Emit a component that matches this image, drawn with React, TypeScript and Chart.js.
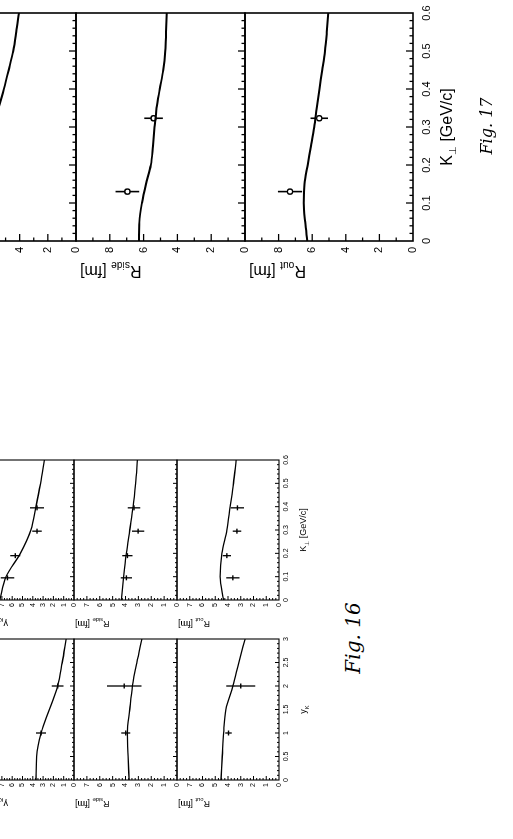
import React, { useEffect, useRef } from 'react';
import { Chart, registerables } from 'chart.js';

Chart.register(...registerables);

const SANS = '"Liberation Sans", Arial, Helvetica, sans-serif';
const HAND = '"DejaVu Serif", "Liberation Serif", serif';

// ---------------- Fig. 17 (K_perp dependence, large panels) ----------------
const k17 = [0, 0.05, 0.1, 0.15, 0.2, 0.25, 0.3, 0.35, 0.4, 0.45, 0.5, 0.55, 0.6];
const rLong17 = [9.5, 8.9, 8.2, 7.5, 6.9, 6.35, 5.9, 5.5, 5.12, 4.78, 4.46, 4.24, 4.05];
const rSide17 = [6.27, 6.25, 6.1, 5.86, 5.57, 5.45, 5.35, 5.23, 5.04, 4.84, 4.72, 4.67, 4.63];
const rOut17 = [6.29, 6.42, 6.5, 6.46, 6.27, 6.07, 5.88, 5.73, 5.57, 5.4, 5.24, 5.13, 5.04];
const k17Pts = [0.13, 0.323];
const rSide17Pts = [6.96, 5.41];
const rSide17Err = [0.7, 0.55];
const rOut17Pts = [7.32, 5.58];
const rOut17Err = [0.72, 0.52];
const k17Ticks = [0, 0.1, 0.2, 0.3, 0.4, 0.5, 0.6];
const r17Ticks = [0, 2, 4, 6, 8];
const rLong17Ticks = [0, 2, 4, 6, 8, 10];

// ---------------- Fig. 16 (y_K and K_perp dependence, small panels) ----------------
const yK16 = [0, 0.5, 1, 1.5, 2, 2.5, 3];
const rTopY16 = [3.69, 3.63, 3.2, 2.39, 1.58, 1.14, 0.76];
const rSideY16 = [3.72, 3.8, 3.85, 3.67, 3.46, 3.12, 2.72];
const rOutY16 = [4.55, 4.45, 4.35, 4.16, 3.62, 3.15, 2.66];
const yKPts16 = [1, 2];
const rTopY16Pts = [3.2, 1.58];
const rTopY16Err = [0.49, 0.57];
const rSideY16Pts = [3.98, 4.1];
const rSideY16Err = [0.35, 1.34];
const rOutY16Pts = [3.96, 3.0];
const rOutY16Err = [0.25, 1.13];

const k16 = [0, 0.1, 0.2, 0.3, 0.4, 0.5, 0.6];
const rTopK16 = [7.2, 6.6, 5.2, 4.18, 3.69, 3.25, 2.88];
const rSideK16 = [4.32, 4.14, 3.93, 3.67, 3.41, 3.22, 3.07];
const rOutK16 = [4.35, 4.62, 4.48, 4.09, 3.83, 3.57, 3.36];
const k16Pts = [0.095, 0.19, 0.295, 0.395];
const rTopK16Pts = [6.46, 5.7, 3.59, 3.59];
const rTopK16Err = [0.65, 0.49, 0.46, 0.68];
const rSideK16Pts = [3.93, 3.85, 3.02, 3.34];
const rSideK16Err = [0.43, 0.4, 0.48, 0.48];
const rOutK16Pts = [3.62, 4.09, 3.3, 3.26];
const rOutK16Err = [0.52, 0.33, 0.33, 0.52];

const yK16Ticks = [0, 0.5, 1, 1.5, 2, 2.5, 3];
const k16Ticks = [0, 0.1, 0.2, 0.3, 0.4, 0.5, 0.6];
const r16Ticks = [0, 1, 2, 3, 4, 5, 6, 7];
const rTop16Ticks = [0, 1, 2, 3, 4, 5, 6, 7, 8, 9];

// ---------------- types & styles ----------------
type Seg = { t: string; sub?: boolean };
type Style = {
  leftW: number; bottomH: number; frameW: number; curveW: number; majL: number; minL: number;
  tickFont: number; titleFont: number; yPad: number; xPad: number; ptStyle: string; ptR: number;
  errW: number; yTitleOff: number; yTitleTop: number; xTitleBase: number;
};
type PanelCfg = {
  id: string; s: Style;
  x0: number; x1: number; y0: number; y1: number;
  xMin: number; xMax: number; yMin: number; yMax: number;
  xMajor: number; xMinor: number; yMajor: number; yMinor: number;
  xLabels: number[] | null; yLabels: number[];
  curveX: number[]; curveY: number[];
  ptsX?: number[]; ptsY?: number[]; ptsE?: number[];
  yTitle: Seg[]; xTitle?: Seg[];
};

const S17: Style = {
  leftW: 50, bottomH: 52, frameW: 1.6, curveW: 2, majL: 7, minL: 3.5, tickFont: 11, titleFont: 16,
  yPad: 6, xPad: 7, ptStyle: 'circle', ptR: 2.6, errW: 1.6, yTitleOff: 31, yTitleTop: 4, xTitleBase: 39,
};
const S16: Style = {
  leftW: 36, bottomH: 34, frameW: 1.1, curveW: 1.3, majL: 4, minL: 2, tickFont: 7, titleFont: 9,
  yPad: 3, xPad: 3, ptStyle: 'line', ptR: 2.5, errW: 1.3, yTitleOff: 24, yTitleTop: 1, xTitleBase: 27,
};

const R = (sub: string): Seg[] => [{ t: 'R' }, { t: sub, sub: true }, { t: ' [fm]' }];
const KPERP: Seg[] = [{ t: 'K' }, { t: '⊥', sub: true }, { t: ' [GeV/c]' }];
const YK: Seg[] = [{ t: 'y' }, { t: 'K', sub: true }];
const TOP16: Seg[] = [{ t: 'γ' }, { t: 'K', sub: true }, { t: ' R' }, { t: 'l', sub: true }, { t: ' [fm]' }];

// Fig 17 geometry (upright, landscape 839x513)
const F17X = [598, 826];
const F17Rows = [[-93, 76], [76, 245], [245, 413]];
// Fig 16 geometry
const F16L = [59, 200];
const F16R = [239, 379];
const F16Rows = [[-29, 74], [74, 177], [177, 279]];

const panels: PanelCfg[] = [
  {
    id: 'f17a', s: S17, x0: F17X[0], x1: F17X[1], y0: F17Rows[0][0], y1: F17Rows[0][1],
    xMin: 0, xMax: 0.6, yMin: 0, yMax: 12, xMajor: 0.1, xMinor: 0.02, yMajor: 2, yMinor: 1,
    xLabels: null, yLabels: rLong17Ticks, curveX: k17, curveY: rLong17, yTitle: R('long'),
  },
  {
    id: 'f17b', s: S17, x0: F17X[0], x1: F17X[1], y0: F17Rows[1][0], y1: F17Rows[1][1],
    xMin: 0, xMax: 0.6, yMin: 0, yMax: 10, xMajor: 0.1, xMinor: 0.02, yMajor: 2, yMinor: 1,
    xLabels: null, yLabels: r17Ticks, curveX: k17, curveY: rSide17,
    ptsX: k17Pts, ptsY: rSide17Pts, ptsE: rSide17Err, yTitle: R('side'),
  },
  {
    id: 'f17c', s: S17, x0: F17X[0], x1: F17X[1], y0: F17Rows[2][0], y1: F17Rows[2][1],
    xMin: 0, xMax: 0.6, yMin: 0, yMax: 10, xMajor: 0.1, xMinor: 0.02, yMajor: 2, yMinor: 1,
    xLabels: k17Ticks, yLabels: r17Ticks, curveX: k17, curveY: rOut17,
    ptsX: k17Pts, ptsY: rOut17Pts, ptsE: rOut17Err, yTitle: R('out'), xTitle: KPERP,
  },
  {
    id: 'f16la', s: S16, x0: F16L[0], x1: F16L[1], y0: F16Rows[0][0], y1: F16Rows[0][1],
    xMin: 0, xMax: 3, yMin: 0, yMax: 10, xMajor: 0.5, xMinor: 0.1, yMajor: 1, yMinor: 0.25,
    xLabels: null, yLabels: rTop16Ticks, curveX: yK16, curveY: rTopY16,
    ptsX: yKPts16, ptsY: rTopY16Pts, ptsE: rTopY16Err, yTitle: TOP16,
  },
  {
    id: 'f16lb', s: S16, x0: F16L[0], x1: F16L[1], y0: F16Rows[1][0], y1: F16Rows[1][1],
    xMin: 0, xMax: 3, yMin: 0, yMax: 8, xMajor: 0.5, xMinor: 0.1, yMajor: 1, yMinor: 0.25,
    xLabels: null, yLabels: r16Ticks, curveX: yK16, curveY: rSideY16,
    ptsX: yKPts16, ptsY: rSideY16Pts, ptsE: rSideY16Err, yTitle: R('side'),
  },
  {
    id: 'f16lc', s: S16, x0: F16L[0], x1: F16L[1], y0: F16Rows[2][0], y1: F16Rows[2][1],
    xMin: 0, xMax: 3, yMin: 0, yMax: 8, xMajor: 0.5, xMinor: 0.1, yMajor: 1, yMinor: 0.25,
    xLabels: yK16Ticks, yLabels: r16Ticks, curveX: yK16, curveY: rOutY16,
    ptsX: yKPts16, ptsY: rOutY16Pts, ptsE: rOutY16Err, yTitle: R('out'), xTitle: YK,
  },
  {
    id: 'f16ra', s: S16, x0: F16R[0], x1: F16R[1], y0: F16Rows[0][0], y1: F16Rows[0][1],
    xMin: 0, xMax: 0.6, yMin: 0, yMax: 10, xMajor: 0.1, xMinor: 0.02, yMajor: 1, yMinor: 0.25,
    xLabels: null, yLabels: rTop16Ticks, curveX: k16, curveY: rTopK16,
    ptsX: k16Pts, ptsY: rTopK16Pts, ptsE: rTopK16Err, yTitle: TOP16,
  },
  {
    id: 'f16rb', s: S16, x0: F16R[0], x1: F16R[1], y0: F16Rows[1][0], y1: F16Rows[1][1],
    xMin: 0, xMax: 0.6, yMin: 0, yMax: 8, xMajor: 0.1, xMinor: 0.02, yMajor: 1, yMinor: 0.25,
    xLabels: null, yLabels: r16Ticks, curveX: k16, curveY: rSideK16,
    ptsX: k16Pts, ptsY: rSideK16Pts, ptsE: rSideK16Err, yTitle: R('side'),
  },
  {
    id: 'f16rc', s: S16, x0: F16R[0], x1: F16R[1], y0: F16Rows[2][0], y1: F16Rows[2][1],
    xMin: 0, xMax: 0.6, yMin: 0, yMax: 8, xMajor: 0.1, xMinor: 0.02, yMajor: 1, yMinor: 0.25,
    xLabels: k16Ticks, yLabels: r16Ticks, curveX: k16, curveY: rOutK16,
    ptsX: k16Pts, ptsY: rOutK16Pts, ptsE: rOutK16Err, yTitle: R('out'), xTitle: KPERP,
  },
];

const fmt = (v: number) => String(Math.round(v * 100) / 100);

function drawRich(ctx: CanvasRenderingContext2D, segs: Seg[], x: number, y: number, size: number,
  rot: number, align: 'start' | 'center' | 'end') {
  const sub = size * 0.64;
  ctx.save();
  ctx.translate(x, y);
  ctx.rotate(rot);
  ctx.fillStyle = '#000';
  ctx.textBaseline = 'alphabetic';
  ctx.textAlign = 'left';
  const widths = segs.map((sg) => {
    ctx.font = `${sg.sub ? sub : size}px ${SANS}`;
    return ctx.measureText(sg.t).width;
  });
  const total = widths.reduce((a, b) => a + b, 0);
  let cx = align === 'center' ? -total / 2 : align === 'end' ? -total : 0;
  segs.forEach((sg, i) => {
    ctx.font = `${sg.sub ? sub : size}px ${SANS}`;
    ctx.fillText(sg.t, cx, sg.sub ? size * 0.28 : 0);
    cx += widths[i];
  });
  ctx.restore();
}

function Panel({ c }: { c: PanelCfg }) {
  const ref = useRef<HTMLCanvasElement>(null);
  const s = c.s;
  const showX = !!c.xLabels;
  const padT = 14;
  const padR = 14;
  const padB = showX ? s.bottomH : 14;
  const W = s.leftW + (c.x1 - c.x0) + padR;
  const H = padT + (c.y1 - c.y0) + padB;

  useEffect(() => {
    const canvas = ref.current;
    if (!canvas) return;
    const datasets: any[] = [
      {
        data: c.curveX.map((x, i) => ({ x, y: c.curveY[i] })),
        borderColor: '#000', borderWidth: s.curveW, pointRadius: 0, fill: false,
        cubicInterpolationMode: 'monotone',
      },
    ];
    if (c.ptsX && c.ptsY) {
      datasets.push({
        data: c.ptsX.map((x, i) => ({ x, y: c.ptsY![i] })),
        errs: c.ptsE,
        showLine: false, pointStyle: s.ptStyle, pointRadius: s.ptR, pointBorderWidth: 1.4,
        borderColor: '#000', backgroundColor: '#fff', pointBackgroundColor: '#fff',
      });
    }
    const framePlugin = {
      id: 'frame_' + c.id,
      beforeDatasetsDraw(chart: any) {
        const ctx = chart.ctx as CanvasRenderingContext2D;
        const ys = chart.scales.y;
        ctx.save();
        ctx.strokeStyle = '#000';
        ctx.lineWidth = s.errW;
        chart.data.datasets.forEach((ds: any, i: number) => {
          if (!ds.errs) return;
          const meta = chart.getDatasetMeta(i);
          meta.data.forEach((el: any, j: number) => {
            const v = ds.data[j].y;
            const e = ds.errs[j];
            ctx.beginPath();
            ctx.moveTo(el.x, ys.getPixelForValue(v - e));
            ctx.lineTo(el.x, ys.getPixelForValue(v + e));
            ctx.stroke();
          });
        });
        ctx.restore();
      },
      afterDatasetsDraw(chart: any) {
        const ctx = chart.ctx as CanvasRenderingContext2D;
        const a = chart.chartArea;
        const xs = chart.scales.x;
        const ys = chart.scales.y;
        ctx.save();
        ctx.strokeStyle = '#000';
        ctx.lineWidth = s.frameW;
        ctx.strokeRect(a.left, a.top, a.right - a.left, a.bottom - a.top);
        ctx.lineWidth = Math.max(1, s.frameW * 0.8);
        const nx = Math.round((c.xMax - c.xMin) / c.xMinor);
        for (let i = 1; i < nx; i++) {
          const v = c.xMin + i * c.xMinor;
          const r = v / c.xMajor;
          const major = Math.abs(r - Math.round(r)) < 1e-6;
          const px = xs.getPixelForValue(v);
          ctx.beginPath();
          ctx.moveTo(px, a.bottom);
          ctx.lineTo(px, a.bottom - (major ? s.majL : s.minL));
          ctx.stroke();
        }
        const ny = Math.round((c.yMax - c.yMin) / c.yMinor);
        for (let i = 1; i < ny; i++) {
          const v = c.yMin + i * c.yMinor;
          const r = v / c.yMajor;
          const major = Math.abs(r - Math.round(r)) < 1e-6;
          const py = ys.getPixelForValue(v);
          ctx.beginPath();
          ctx.moveTo(a.left, py);
          ctx.lineTo(a.left + (major ? s.majL : s.minL), py);
          ctx.stroke();
        }
        ctx.restore();
      },
      afterDraw(chart: any) {
        const ctx = chart.ctx as CanvasRenderingContext2D;
        const a = chart.chartArea;
        const cap = s.titleFont * 0.36;
        drawRich(ctx, c.yTitle, a.left - s.yTitleOff + cap, a.top + s.yTitleTop, s.titleFont, -Math.PI / 2, 'end');
        if (c.xTitle) {
          drawRich(ctx, c.xTitle, (a.left + a.right) / 2, a.bottom + s.xTitleBase, s.titleFont, 0, 'center');
        }
      },
    };

    const chart = new Chart(canvas, {
      type: 'line',
      data: { datasets },
      options: {
        responsive: false,
        animation: false,
        devicePixelRatio: 1,
        events: [],
        layout: { padding: { top: padT, right: padR, bottom: showX ? 0 : padB, left: 0 } },
        plugins: { legend: { display: false }, tooltip: { enabled: false }, title: { display: false } },
        scales: {
          x: {
            type: 'linear', min: c.xMin, max: c.xMax, display: showX,
            grid: { display: false, drawTicks: false }, border: { display: false },
            ticks: {
              autoSkip: false, maxRotation: 0, minRotation: 0, padding: s.xPad, color: '#000',
              font: { family: SANS, size: s.tickFont }, callback: (v: any) => fmt(Number(v)),
            },
            afterBuildTicks: (sc: any) => { sc.ticks = (c.xLabels || []).map((v) => ({ value: v })); },
            afterFit: (sc: any) => {
              if (showX) sc.height = s.bottomH;
              sc.paddingLeft = 0; sc.paddingRight = 0;
            },
          },
          y: {
            type: 'linear', min: c.yMin, max: c.yMax,
            grid: { display: false, drawTicks: false }, border: { display: false },
            ticks: {
              autoSkip: false, padding: s.yPad, color: '#000',
              font: { family: SANS, size: s.tickFont }, callback: (v: any) => fmt(Number(v)),
            },
            afterBuildTicks: (sc: any) => { sc.ticks = c.yLabels.map((v) => ({ value: v })); },
            afterFit: (sc: any) => {
              sc.width = s.leftW;
              sc.paddingTop = 0; sc.paddingBottom = 0;
            },
          },
        },
      } as any,
      plugins: [framePlugin],
    });
    return () => chart.destroy();
  }, []);

  return (
    <canvas
      ref={ref}
      width={W}
      height={H}
      style={{ position: 'absolute', left: c.x0 - s.leftW, top: c.y0 - padT, width: W, height: H }}
    />
  );
}

export default function App() {
  return (
    <div style={{ position: 'fixed', left: 0, top: 0, width: 513, height: 839, overflow: 'hidden', background: '#fff' }}>
      <div
        style={{
          position: 'absolute', left: 0, top: 0, width: 839, height: 513,
          transformOrigin: '0 0', transform: 'translate(0px, 839px) rotate(-90deg)', background: '#fff',
        }}
      >
        {panels.map((p) => <Panel key={p.id} c={p} />)}
        <div style={{ position: 'absolute', left: 161, top: 340, width: 80, textAlign: 'center', fontFamily: HAND, fontStyle: 'italic', fontSize: 20, lineHeight: '26px', color: '#000' }}>
          Fig. 16
        </div>
        <div style={{ position: 'absolute', left: 673, top: 476, width: 80, textAlign: 'center', fontFamily: HAND, fontStyle: 'italic', fontSize: 16, lineHeight: '22px', color: '#000' }}>
          Fig. 17
        </div>
      </div>
    </div>
  );
}
